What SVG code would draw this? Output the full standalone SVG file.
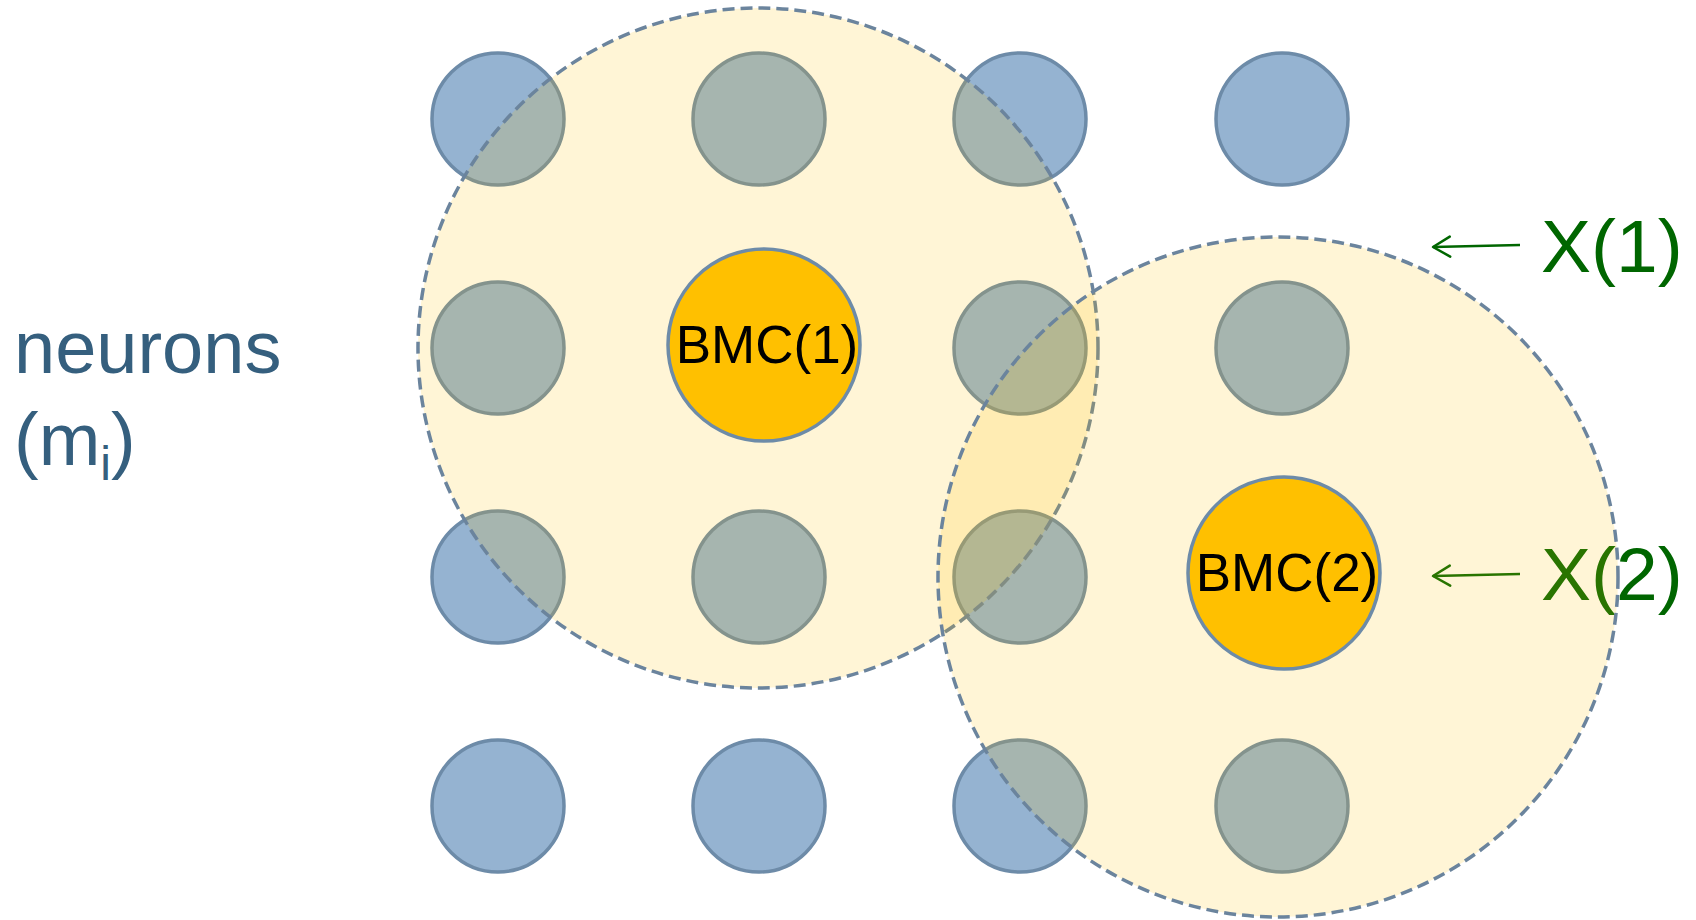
<svg xmlns="http://www.w3.org/2000/svg" width="1696" height="920" viewBox="0 0 1696 920">
  <style>
    .label { font-family: "Liberation Sans", Arial, sans-serif; }
    .neuron { fill: #95B3D1; stroke: #6D8BA8; stroke-width: 3.5; }
    .zone { fill: #FFC000; fill-opacity: 0.16; stroke: #6B849D; stroke-width: 3.5; stroke-dasharray: 12 6; }
    .bmc { fill: #FFC000; stroke: #6D8BA8; stroke-width: 3.5; }
    .bmc-text { font-family: "Liberation Sans", Arial, sans-serif; font-size: 53px; fill: #000000; text-anchor: middle; }
    .x-text { font-family: "Liberation Sans", Arial, sans-serif; font-size: 75px; fill: #006600; }
    .pointer { stroke: #006600; stroke-width: 2.5; fill: none; marker-end: url(#open-head); }
  </style>
  <defs>
    <marker id="open-head" markerUnits="userSpaceOnUse" viewBox="-19 -12 21 24" markerWidth="21" markerHeight="24" refX="0" refY="0" orient="auto" overflow="visible">
      <path d="M-17,-10 L0,0 L-17,10" fill="none" stroke="#006600" stroke-width="2.5" stroke-linecap="round" stroke-linejoin="round"/>
    </marker>
  </defs>

  <rect width="1696" height="920" fill="#FFFFFF"/>

  <!-- side label for the neuron grid -->
  <g id="neurons-label" class="label" fill="#355F7E" font-size="74">
    <text x="14" y="373">neurons</text>
    <text x="14" y="465">(m<tspan font-size="48" dy="15">i</tspan><tspan font-size="74" dy="-15">)</tspan></text>
  </g>

  <!-- input vector labels -->
  <g id="x1-label"><text class="x-text" x="1541" y="272">X(1)</text></g>
  <g id="x2-label"><text class="x-text" x="1541" y="600">X(2)</text></g>

  <!-- pointers from input labels -->
  <g id="connectors">
    <line class="pointer" x1="1520" y1="245" x2="1433" y2="247"/>
    <line class="pointer" x1="1520" y1="574" x2="1433" y2="576"/>
  </g>

  <!-- 4x4 neuron grid -->
  <g id="neuron-grid">
    <circle id="n-0-0" class="neuron" cx="498" cy="119" r="66"/>
    <circle id="n-0-1" class="neuron" cx="759" cy="119" r="66"/>
    <circle id="n-0-2" class="neuron" cx="1020" cy="119" r="66"/>
    <circle id="n-0-3" class="neuron" cx="1282" cy="119" r="66"/>
    <circle id="n-1-0" class="neuron" cx="498" cy="348" r="66"/>
    <circle id="n-1-2" class="neuron" cx="1020" cy="348" r="66"/>
    <circle id="n-1-3" class="neuron" cx="1282" cy="348" r="66"/>
    <circle id="n-2-0" class="neuron" cx="498" cy="577" r="66"/>
    <circle id="n-2-1" class="neuron" cx="759" cy="577" r="66"/>
    <circle id="n-2-2" class="neuron" cx="1020" cy="577" r="66"/>
    <circle id="n-3-0" class="neuron" cx="498" cy="806" r="66"/>
    <circle id="n-3-1" class="neuron" cx="759" cy="806" r="66"/>
    <circle id="n-3-2" class="neuron" cx="1020" cy="806" r="66"/>
    <circle id="n-3-3" class="neuron" cx="1282" cy="806" r="66"/>
  </g>

  <!-- neighbourhood zones -->
  <g id="zone-1"><circle class="zone" cx="758" cy="348" r="340"/></g>
  <g id="zone-2"><circle class="zone" cx="1278" cy="577" r="340"/></g>

  <!-- best matching cells -->
  <g id="bmc-1">
    <circle class="bmc" cx="764" cy="345" r="96"/>
    <text class="bmc-text" x="767" y="363">BMC(1)</text>
  </g>
  <g id="bmc-2">
    <circle class="bmc" cx="1284" cy="573" r="96"/>
    <text class="bmc-text" x="1287" y="591">BMC(2)</text>
  </g>
</svg>
